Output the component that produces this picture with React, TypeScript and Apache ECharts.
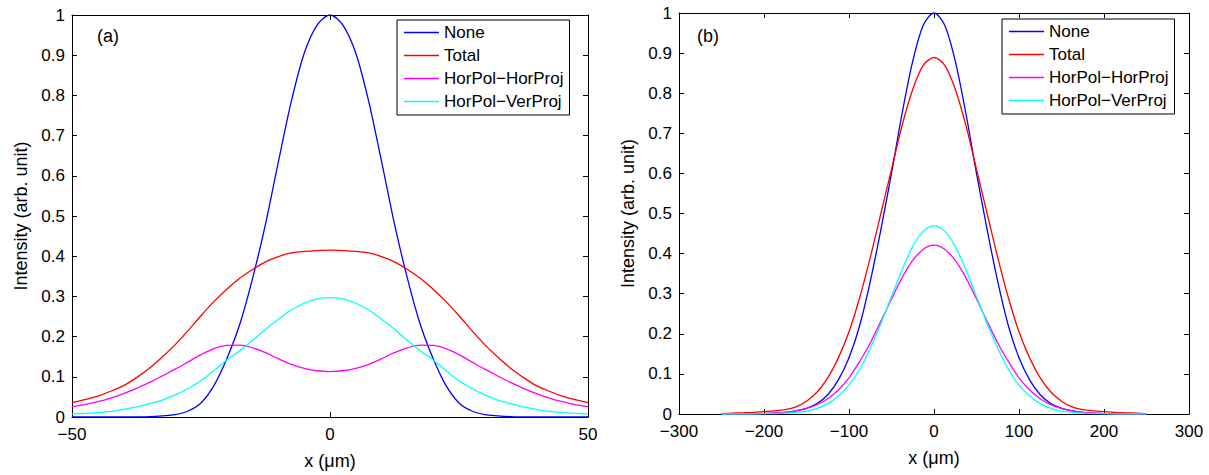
import React, { useEffect, useRef } from "react";
import * as echarts from "echarts";

const seriesNames = ["None", "Total", "HorPol−HorProj", "HorPol−VerProj"];
const seriesColors = ["#0000ff", "#ff0000", "#ff00ff", "#00ffff"];

// Panel (a): x in µm
const xA = [
  -50, -47.5, -45, -42.5, -40, -37.5, -35, -32.5, -30, -27.5, -25, -22.5, -20, -17.5, -15, -12.5, -10, -7.5, -5, -2.5,
  0, 2.5, 5, 7.5, 10, 12.5, 15, 17.5, 20, 22.5, 25, 27.5, 30, 32.5, 35, 37.5, 40, 42.5, 45, 47.5, 50,
];
const noneA = [
  0, 0, 0, 0, 0, 0, 0.001, 0.003, 0.006, 0.015, 0.035, 0.078, 0.145, 0.23, 0.345, 0.48, 0.635, 0.785, 0.905, 0.975,
  1.0, 0.975, 0.905, 0.785, 0.635, 0.48, 0.345, 0.23, 0.145, 0.078, 0.035, 0.015, 0.006, 0.003, 0.001, 0, 0, 0, 0, 0, 0,
];
const totalA = [
  0.036, 0.043, 0.052, 0.064, 0.078, 0.098, 0.121, 0.149, 0.18, 0.215, 0.252, 0.287, 0.318, 0.345, 0.367, 0.386, 0.399, 0.408, 0.412, 0.414,
  0.415, 0.414, 0.412, 0.408, 0.399, 0.386, 0.367, 0.345, 0.318, 0.287, 0.252, 0.215, 0.18, 0.149, 0.121, 0.098, 0.078, 0.064, 0.052, 0.043, 0.036,
];
const horHorA = [
  0.026, 0.031, 0.038, 0.047, 0.058, 0.071, 0.086, 0.102, 0.119, 0.137, 0.155, 0.17, 0.178, 0.179, 0.172, 0.16, 0.145, 0.131, 0.121, 0.115,
  0.113, 0.115, 0.121, 0.131, 0.145, 0.16, 0.172, 0.179, 0.178, 0.17, 0.155, 0.137, 0.119, 0.102, 0.086, 0.071, 0.058, 0.047, 0.038, 0.031, 0.026,
];
const horVerA = [
  0.008, 0.009, 0.011, 0.014, 0.019, 0.025, 0.033, 0.042, 0.055, 0.071, 0.09, 0.115, 0.142, 0.165, 0.19, 0.218, 0.243, 0.266, 0.283, 0.294,
  0.297, 0.294, 0.283, 0.266, 0.243, 0.218, 0.19, 0.165, 0.142, 0.115, 0.09, 0.071, 0.055, 0.042, 0.033, 0.025, 0.019, 0.014, 0.011, 0.009, 0.008,
];

// Panel (b): x in µm
const xB = [
  -250, -237.5, -225, -212.5, -200, -187.5, -175, -162.5, -150, -137.5, -125, -112.5, -100, -87.5, -75, -62.5, -50, -37.5, -25, -12.5,
  0, 12.5, 25, 37.5, 50, 62.5, 75, 87.5, 100, 112.5, 125, 137.5, 150, 162.5, 175, 187.5, 200, 212.5, 225, 237.5, 250,
];
const noneB = [
  0, 0, 0, 0, 0.001, 0.002, 0.004, 0.008, 0.014, 0.026, 0.048, 0.085, 0.14, 0.22, 0.33, 0.46, 0.6, 0.75, 0.88, 0.97,
  1.0, 0.97, 0.88, 0.75, 0.6, 0.46, 0.33, 0.22, 0.14, 0.085, 0.048, 0.026, 0.014, 0.008, 0.004, 0.002, 0.001, 0, 0, 0, 0,
];
const totalB = [
  0.001, 0.002, 0.003, 0.004, 0.006, 0.008, 0.011, 0.018, 0.032, 0.055, 0.09, 0.14, 0.205, 0.29, 0.39, 0.5, 0.61, 0.72, 0.81, 0.87,
  0.889, 0.87, 0.81, 0.72, 0.61, 0.5, 0.39, 0.29, 0.205, 0.14, 0.09, 0.055, 0.032, 0.018, 0.011, 0.008, 0.006, 0.004, 0.003, 0.002, 0.001,
];
const horHorB = [
  0, 0, 0, 0.001, 0.001, 0.002, 0.004, 0.008, 0.014, 0.023, 0.038, 0.06, 0.09, 0.131, 0.177, 0.231, 0.287, 0.34, 0.383, 0.411,
  0.421, 0.411, 0.383, 0.34, 0.287, 0.231, 0.177, 0.131, 0.09, 0.06, 0.038, 0.023, 0.014, 0.008, 0.004, 0.002, 0.001, 0.001, 0, 0, 0,
];
const horVerB = [
  0, 0, 0, 0, 0.001, 0.001, 0.002, 0.004, 0.007, 0.014, 0.026, 0.045, 0.072, 0.111, 0.164, 0.225, 0.293, 0.36, 0.418, 0.456,
  0.469, 0.456, 0.418, 0.36, 0.293, 0.225, 0.164, 0.111, 0.072, 0.045, 0.026, 0.014, 0.007, 0.004, 0.002, 0.001, 0.001, 0, 0, 0, 0,
];

const panelLabels = ["(a)", "(b)"];
const xTitle = "x (μm)";
const yTitle = "Intensity (arb. unit)";

const FONT = "'Liberation Sans', Arial, Helvetica, sans-serif";

const fmtNum = (v: number) => {
  const s = String(Math.round(v * 1000) / 1000);
  return v < 0 ? "−" + s.slice(1) : s;
};

export default function App() {
  const ref = useRef<HTMLDivElement>(null);
  useEffect(() => {
    if (!ref.current) return;
    const chart = echarts.init(ref.current, null, { renderer: "svg" });

    const axisLine = { show: true, onZero: false, lineStyle: { color: "#000", width: 1 } };
    const axisTick = { show: true, inside: true, length: 5, lineStyle: { color: "#000", width: 1 } };
    const label = { color: "#000", fontSize: 17, fontFamily: FONT, formatter: fmtNum };
    const nameStyle = { color: "#000", fontSize: 18, fontFamily: FONT };

    const mkX = (grid: number, min: number, max: number, interval: number) => [
      {
        type: "value", gridIndex: grid, min, max, interval, position: "bottom",
        axisLine, axisTick, axisLabel: { ...label, margin: 9 }, splitLine: { show: false },
        name: xTitle, nameLocation: "middle", nameGap: 35, nameTextStyle: nameStyle,
      },
      {
        type: "value", gridIndex: grid, min, max, interval, position: "top",
        axisLine, axisTick, axisLabel: { show: false }, splitLine: { show: false },
      },
    ];
    const mkY = (grid: number) => [
      {
        type: "value", gridIndex: grid, min: 0, max: 1, interval: 0.1, position: "left",
        axisLine, axisTick, axisLabel: { ...label, margin: 7 }, splitLine: { show: false },
        name: yTitle, nameLocation: "middle", nameGap: 42, nameTextStyle: nameStyle,
      },
      {
        type: "value", gridIndex: grid, min: 0, max: 1, interval: 0.1, position: "right",
        axisLine, axisTick, axisLabel: { show: false }, splitLine: { show: false },
      },
    ];

    const dataA = [noneA, totalA, horHorA, horVerA];
    const dataB = [noneB, totalB, horHorB, horVerB];
    const series: any[] = [];
    dataA.forEach((arr, i) => {
      series.push({
        type: "line", name: seriesNames[i], xAxisIndex: 0, yAxisIndex: 0,
        data: xA.map((x, j) => [x, arr[j]]), symbol: "none", smooth: 0.3,
        lineStyle: { color: seriesColors[i], width: 1.3 }, itemStyle: { color: seriesColors[i] },
      });
    });
    dataB.forEach((arr, i) => {
      series.push({
        type: "line", name: seriesNames[i], xAxisIndex: 2, yAxisIndex: 2,
        data: xB.map((x, j) => [x, arr[j]]), symbol: "none", smooth: 0.3,
        lineStyle: { color: seriesColors[i], width: 1.3 }, itemStyle: { color: seriesColors[i] },
      });
    });

    const legendBase = {
      data: seriesNames.map((n) => ({ name: n, icon: "rect" })),
      orient: "vertical", padding: [4, 6, 5, 7], itemGap: 6,
      itemWidth: 35, itemHeight: 1.4, borderColor: "#000", borderWidth: 1, backgroundColor: "#fff",
      itemStyle: { borderWidth: 0 },
      textStyle: { color: "#000", fontSize: 17, fontFamily: FONT, lineHeight: 17 }, selectedMode: false,
    };

    chart.setOption({
      animation: false,
      backgroundColor: "#fff",
      grid: [
        { left: 72, top: 15, width: 516, height: 403 },
        { left: 679, top: 13, width: 510, height: 401 },
      ],
      xAxis: [...mkX(0, -50, 50, 50), ...mkX(1, -300, 300, 100)],
      yAxis: [...mkY(0), ...mkY(1)],
      legend: [
        { ...legendBase, left: 397, top: 20 },
        { ...legendBase, left: 1002, top: 19 },
      ],
      graphic: [
        { type: "text", left: 97, top: 27, style: { text: panelLabels[0], fontSize: 18, fontFamily: FONT, fill: "#000" } },
        { type: "text", left: 697, top: 27, style: { text: panelLabels[1], fontSize: 18, fontFamily: FONT, fill: "#000" } },
      ],
      series,
    });
    return () => chart.dispose();
  }, []);
  return <div ref={ref} style={{ position: "fixed", left: 0, top: 0, width: 1209, height: 475 }} />;
}
